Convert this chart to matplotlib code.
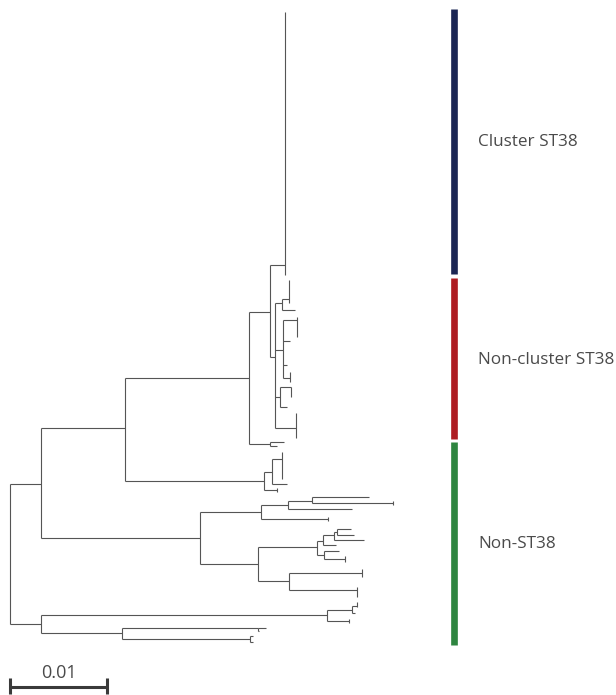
import matplotlib
matplotlib.use("Agg")
import matplotlib.pyplot as plt

# ---------------- data ----------------
# tree: node name, parent, branch length (substitutions/site), vertical tip position
node_names = ["root", "A", "D", "B", "C", "B1", "B2", "B1a", "B1b", "CL",
              "B1a2", "Na", "Ga", "La", "Nb", "Gb", "Lb1", "Lb2", "Lb3", "Nd",
              "Gd", "Ld", "Ge", "L8a", "L8b", "N6", "G6", "L6", "L6b", "C1",
              "C2", "C1a", "C1b", "t33", "t34", "t35", "t36", "C2a", "C2b", "C2c",
              "C2d", "t41", "t42", "t43", "t44", "C2e", "t46", "t47", "C2f", "t49",
              "t50", "D1", "D2", "D1a", "t54", "t55", "t56", "D2a", "t58", "t59",
              "D2b", "t61", "t62"]
node_parents = [None, "root", "root", "A", "A", "B", "B", "B1", "B1", "B1a",
                "B1a", "B1a2", "Na", "Na", "B1a2", "Nb", "Nb", "Nb", "Nb", "B1a2",
                "Nd", "Nd", "B1a2", "B1b", "B1b", "B2", "N6", "N6", "B2", "C",
                "C", "C1", "C1a", "C1b", "C1b", "C1a", "C1", "C2", "C2a", "C2b",
                "C2c", "C2d", "C2d", "C2c", "C2b", "C2a", "C2e", "C2e", "C2", "C2f",
                "C2f", "D", "D", "D1", "D1a", "D1a", "D1", "D2", "D2a", "D2a",
                "D2", "D2b", "D2b"]
branch_lengths = [0.0, 0.00320, 0.00320, 0.00866, 0.01639, 0.01278, 0.01433, 0.00216, 0.00216, 0.00155,
                  0.00052, 0.00072, 0.00072, 0.00134, 0.00082, 0.00144, 0.00072, 0.00041, 0.00072, 0.00052,
                  0.00113, 0.00072, 0.00216, 0.00144, 0.00072, 0.00082, 0.00103, 0.00155, 0.00134, 0.00629,
                  0.00598, 0.00278, 0.00247, 0.00588, 0.00835, 0.00660, 0.00691, 0.00608, 0.00062, 0.00113,
                  0.00031, 0.00144, 0.00175, 0.00309, 0.00134, 0.00072, 0.00155, 0.00216, 0.00320, 0.00753,
                  0.00701, 0.02948, 0.00835, 0.00258, 0.00052, 0.00031, 0.00227, 0.01402, 0.00082, 0.00010,
                  0.01320, 0.00031, 0.00031]
node_y = [554, 484, 624, 428, 538, 378, 481, 312, 444, 265,
          357, 303, 299, 310, 350, 320, 341, 365, 378, 397,
          387, 407, 428, 442, 446, 472, 459, 484, 490, 512,
          564, 505, 501, 497, 503, 509, 519, 547, 541, 535,
          532, 529, 535, 540, 545, 555, 551, 559, 581, 573,
          590, 615, 633, 610, 606, 613, 621, 628, 628, 631,
          639, 636, 642]

# collapsed groups of (near) identical tips: vertical extent at the tip
span_nodes = ["CL", "Ga", "Gb", "Lb3", "Gd", "Ge", "G6", "L6b", "t36", "t34", "t47", "t49", "t50", "t54", "t56"]
span_top = [12, 280, 317, 372, 387, 413, 452, 488, 517, 501, 556, 569, 587, 602, 619]
span_bottom = [275, 303, 337, 382, 397, 438, 479, 492, 521, 505, 562, 577, 597, 607, 623]

# clade annotation
clade_labels = ["Cluster ST38", "Non-cluster ST38", "Non-ST38"]
clade_top = [9, 278, 442]
clade_bottom = [274, 439, 645]
clade_colors = ["#1b2654", "#ae1c22", "#2e8540"]

scale_length = 0.01
scale_label = "0.01"

# ---------------- layout ----------------
W, H = 616, 695
fig = plt.figure(figsize=(W / 100, H / 100), dpi=100)
ax = fig.add_axes([0, 0, 1, 1])
px_per_unit = 9700.0
x0 = 10
ax.set_xlim(-x0 / px_per_unit, (W - x0) / px_per_unit)
ax.set_ylim(H, 0)
ax.axis("off")

idx = {n: i for i, n in enumerate(node_names)}
depth = {}
for i, n in enumerate(node_names):
    p = node_parents[i]
    depth[n] = 0.0 if p is None else depth[p] + branch_lengths[i]

tree_col = "#555555"
lw = 0.8
children = {}
for i, n in enumerate(node_names):
    p = node_parents[i]
    if p is not None:
        children.setdefault(p, []).append(n)
        ax.plot([depth[p], depth[n]], [node_y[i], node_y[i]], color=tree_col, lw=lw,
                solid_capstyle="butt")
for p, ch in children.items():
    ys = [node_y[idx[c]] for c in ch]
    ax.plot([depth[p], depth[p]], [min(ys), max(ys)], color=tree_col, lw=lw,
            solid_capstyle="butt")
for n, t, b in zip(span_nodes, span_top, span_bottom):
    ax.plot([depth[n], depth[n]], [t, b], color=tree_col, lw=lw, solid_capstyle="butt")

# clade bars and labels
bar_x = 454 - x0
for lab, t, b, c in zip(clade_labels, clade_top, clade_bottom, clade_colors):
    ax.plot([bar_x / px_per_unit] * 2, [t, b], color=c, lw=4.8, solid_capstyle="butt")
    ax.text((478 - x0) / px_per_unit, (t + b) / 2 + 1, lab, fontsize=12.3,
            family=["Open Sans", "DejaVu Sans"], color="#4a4a4a", va="center", ha="left")

# scale bar
sb_col = "#3a3a3a"
ax.plot([0, scale_length], [687, 687], color=sb_col, lw=2.2, solid_capstyle="butt")
ax.plot([0, 0], [678, 694], color=sb_col, lw=2.2, solid_capstyle="butt")
ax.plot([scale_length, scale_length], [678, 694], color=sb_col, lw=2.2, solid_capstyle="butt")
ax.text(scale_length / 2, 673, scale_label, fontsize=13, family=["Open Sans", "DejaVu Sans"],
        color="#4a4a4a", ha="center", va="center")

fig.savefig("out.png", dpi=100)
